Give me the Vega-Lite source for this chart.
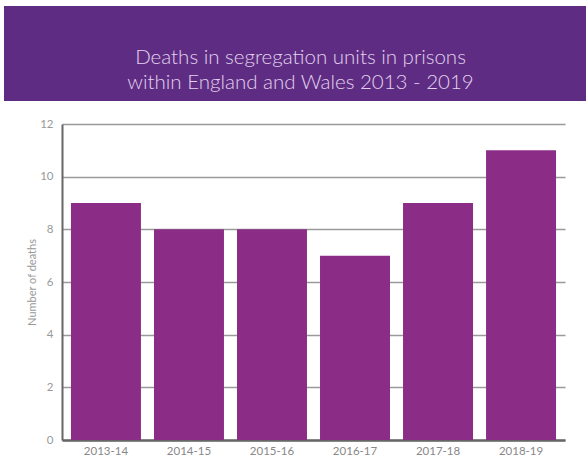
{
  "$schema": "https://vega.github.io/schema/vega-lite/v6.json",
  "padding": {"left": 4, "top": 6, "right": 0, "bottom": 0},
  "background": "white",
  "columns": 1,
  "center": true,
  "spacing": 17,
  "config": {"view": {"stroke": null}, "font": "Lato"},
  "concat": [
    {
      "width": 619,
      "height": 95,
      "view": {"fill": "#5E2D83", "stroke": null},
      "data": {"values": [{"title": "Deaths in segregation units in prisons\nwithin England and Wales 2013 - 2019"}]},
      "mark": {"type": "text", "lineBreak": "\n", "lineHeight": 25, "fontSize": 20.5, "font": "Lato", "fontWeight": 300, "color": "#E3D2EE", "dx": -13, "dy": 4},
      "encoding": {"text": {"field": "title", "type": "nominal"}}
    },
    {
      "width": 503,
      "height": 316,
      "data": {"values": [
        {"year": "2013-14", "deaths": 9},
        {"year": "2014-15", "deaths": 8},
        {"year": "2015-16", "deaths": 8},
        {"year": "2016-17", "deaths": 7},
        {"year": "2017-18", "deaths": 9},
        {"year": "2018-19", "deaths": 11}
      ]},
      "mark": {"type": "bar", "color": "#8B2D86"},
      "encoding": {
        "x": {
          "field": "year", "type": "nominal", "sort": null,
          "scale": {"paddingInner": 0.157, "paddingOuter": 0.108},
          "axis": {"title": null, "labelAngle": 0, "ticks": false, "labelPadding": 5, "labelColor": "#888", "labelFontSize": 11.5, "labelFont": "Lato", "domainColor": "#666", "domainWidth": 2.5}
        },
        "y": {
          "field": "deaths", "type": "quantitative",
          "scale": {"domain": [0, 12]},
          "axis": {"title": "Number of deaths", "titleFontSize": 11, "titleFontWeight": "normal", "titleColor": "#999", "titleFont": "Lato", "titleX": -25, "minExtent": 58, "maxExtent": 58, "labelPadding": 9, "ticks": false, "domainColor": "#666", "domainWidth": 2, "gridColor": "#9a9a9a", "gridWidth": 1.5, "labelColor": "#999", "labelFontSize": 11.5, "labelFont": "Lato", "values": [0, 2, 4, 6, 8, 10, 12]}
        }
      }
    }
  ]
}
